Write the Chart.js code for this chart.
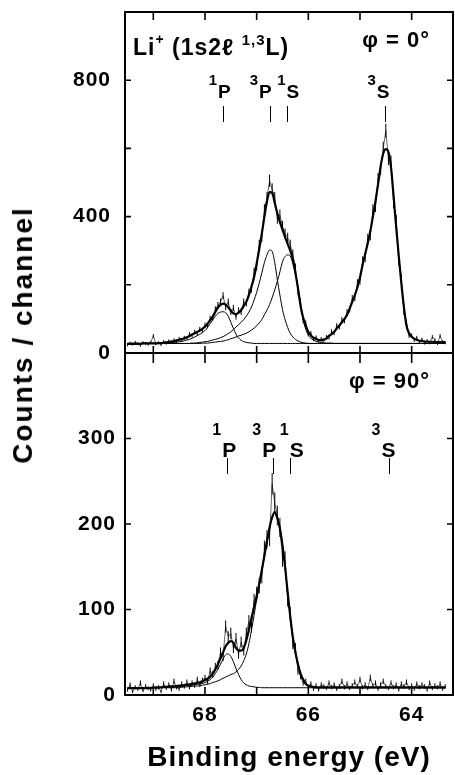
<!DOCTYPE html>
<html>
<head>
<meta charset="utf-8">
<script src="https://cdn.jsdelivr.net/npm/chart.js@4.4.1/dist/chart.umd.min.js"></script>
<style>
  html, body { margin: 0; padding: 0; background: #fff; }
  #wrap { position: relative; width: 455px; height: 775px; overflow: hidden; }
  #topChart { position: absolute; left: 0; top: 0; }
  #bottomChart { position: absolute; left: 0; top: 340px; }
  #yTitle {
    position: absolute; left: 23px; top: 335px;
    transform: translate(-50%, -50%) rotate(-90deg);
    font: bold 28px "Liberation Sans", Arial, Helvetica, sans-serif;
    letter-spacing: 2px; white-space: nowrap; color: #000;
  }
</style>
</head>
<body>
<div id="wrap">
  <canvas id="topChart" width="455" height="360" style="width:455px;height:360px"></canvas>
  <canvas id="bottomChart" width="455" height="435" style="width:455px;height:435px"></canvas>
  <div id="yTitle">Counts / channel</div>
</div>
<script>
// binding energy of each channel (eV)
const energy = [
  69.50, 69.45, 69.40, 69.35, 69.30, 69.25, 69.20, 69.15, 69.10, 69.05,
  69.00, 68.95, 68.90, 68.85, 68.80, 68.75, 68.70, 68.65, 68.60, 68.55,
  68.50, 68.45, 68.40, 68.35, 68.30, 68.25, 68.20, 68.15, 68.10, 68.05,
  68.00, 67.95, 67.90, 67.85, 67.80, 67.75, 67.70, 67.65, 67.60, 67.55,
  67.50, 67.45, 67.40, 67.35, 67.30, 67.25, 67.20, 67.15, 67.10, 67.05,
  67.00, 66.95, 66.90, 66.85, 66.80, 66.75, 66.70, 66.65, 66.60, 66.55,
  66.50, 66.45, 66.40, 66.35, 66.30, 66.25, 66.20, 66.15, 66.10, 66.05,
  66.00, 65.95, 65.90, 65.85, 65.80, 65.75, 65.70, 65.65, 65.60, 65.55,
  65.50, 65.45, 65.40, 65.35, 65.30, 65.25, 65.20, 65.15, 65.10, 65.05,
  65.00, 64.95, 64.90, 64.85, 64.80, 64.75, 64.70, 64.65, 64.60, 64.55,
  64.50, 64.45, 64.40, 64.35, 64.30, 64.25, 64.20, 64.15, 64.10, 64.05,
  64.00, 63.95, 63.90, 63.85, 63.80, 63.75, 63.70, 63.65, 63.60, 63.55,
  63.50, 63.45, 63.40, 63.35
];

// phi = 0 deg panel
const topCounts = [
  24, 29, 26, 31, 27, 23, 30, 28, 26, 31,
  50, 27, 30, 25, 33, 29, 35, 31, 38, 34,
  42, 37, 45, 44, 55, 51, 62, 57, 70, 66,
  82, 80, 101, 104, 128, 140, 150, 168, 135, 150,
  120, 132, 106, 125, 120, 150, 146, 178, 188, 238,
  255, 318, 340, 420, 455, 505, 480, 455, 395, 405,
  372, 350, 338, 318, 290, 250, 180, 150, 95, 88,
  55, 58, 40, 46, 35, 42, 38, 47, 45, 63,
  58, 80, 76, 98, 95, 120, 128, 160, 162, 205,
  212, 270, 280, 335, 345, 420, 430, 510, 540, 600,
  652, 570, 560, 440, 390, 270, 220, 120, 90, 50,
  52, 38, 45, 32, 40, 29, 36, 30, 47, 38,
  28, 50, 33, 30
];
const topFit = [
  27, 27, 27, 27, 27, 27, 28, 28, 28, 28,
  28, 28, 29, 29, 30, 31, 32, 34, 35, 37,
  39, 41, 43, 46, 50, 54, 58, 62, 66, 71,
  77, 86, 96, 107, 120, 133, 141, 145, 142, 134,
  124, 116, 114, 118, 126, 138, 150, 170, 195, 222,
  262, 305, 350, 400, 445, 472, 470, 440, 410, 384,
  362, 340, 320, 300, 275, 235, 190, 138, 104, 80,
  62, 51, 45, 41, 38, 37, 39, 42, 50, 55,
  62, 72, 80, 90, 100, 112, 130, 150, 170, 192,
  222, 258, 290, 322, 358, 400, 445, 495, 548, 585,
  598, 590, 545, 460, 370, 285, 205, 135, 80, 58,
  48, 42, 38, 36, 35, 34, 33, 33, 33, 32,
  32, 32, 32, 32
];
const top1P = [
  28, 28, 28, 28, 28, 28, 28, 28, 28, 28,
  28, 28, 28, 28, 29, 29, 30, 30, 31, 32,
  33, 34, 36, 38, 40, 43, 47, 51, 55, 60,
  66, 75, 86, 97, 108, 116, 120, 121, 118, 108,
  90, 72, 55, 44, 37, 33, 31, 30, 29, 28,
  28, 28, 28, 28, 28, 28, 28, 28, 28, 28,
  28, 28, 28, 28, 28, 28, 28, 28, 28, 28,
  28, 28, 28, 28, 28, 28, 28, 28, 28, 28,
  28, 28, 28, 28, 28, 28, 28, 28, 28, 28,
  28, 28, 28, 28, 28, 28, 28, 28, 28, 28,
  28, 28, 28, 28, 28, 28, 28, 28, 28, 28,
  28, 28, 28, 28, 28, 28, 28, 28, 28, 28,
  28, 28, 28, 28
];
const top3P = [
  28, 28, 28, 28, 28, 28, 28, 28, 28, 28,
  28, 28, 28, 28, 28, 28, 28, 28, 28, 28,
  28, 28, 28, 28, 28, 29, 29, 30, 31, 32,
  33, 34, 36, 38, 40, 42, 45, 48, 52, 57,
  62, 69, 76, 83, 90, 98, 108, 120, 135, 155,
  178, 205, 235, 265, 288, 302, 298, 265, 215, 170,
  128, 98, 75, 58, 47, 40, 35, 32, 30, 29,
  28, 28, 28, 28, 28, 28, 28, 28, 28, 28,
  28, 28, 28, 28, 28, 28, 28, 28, 28, 28,
  28, 28, 28, 28, 28, 28, 28, 28, 28, 28,
  28, 28, 28, 28, 28, 28, 28, 28, 28, 28,
  28, 28, 28, 28, 28, 28, 28, 28, 28, 28,
  28, 28, 28, 28
];
const top1S = [
  28, 28, 28, 28, 28, 28, 28, 28, 28, 28,
  28, 28, 28, 28, 28, 28, 28, 28, 28, 28,
  28, 28, 28, 28, 28, 28, 28, 28, 28, 29,
  29, 29, 30, 31, 32, 33, 34, 35, 37, 39,
  42, 44, 47, 50, 52, 55, 58, 62, 67, 73,
  80, 88, 98, 112, 126, 142, 162, 185, 210, 238,
  268, 283, 288, 284, 262, 232, 190, 140, 97, 70,
  52, 43, 38, 34, 32, 31, 30, 29, 29, 29,
  28, 28, 28, 28, 28, 28, 28, 28, 28, 28,
  28, 28, 28, 28, 28, 28, 28, 28, 28, 28,
  28, 28, 28, 28, 28, 28, 28, 28, 28, 28,
  28, 28, 28, 28, 28, 28, 28, 28, 28, 28,
  28, 28, 28, 28
];

// phi = 90 deg panel
const botCounts = [
  6, 12, 4, 9, 7, 14, 5, 10, 8, 6,
  11, 7, 9, 4, 13, 8, 12, 6, 16, 9,
  7, 13, 10, 15, 9, 14, 11, 18, 12, 17,
  20, 16, 28, 24, 33, 35, 50, 45, 80, 68,
  72, 55, 66, 48, 62, 52, 72, 86, 80, 110,
  118, 128, 140, 170, 182, 185, 247, 225, 210, 196,
  160, 158, 112, 95, 60, 55, 28, 22, 14, 16,
  9, 13, 7, 11, 6, 12, 10, 8, 14, 9,
  12, 7, 10, 16, 9, 13, 8, 11, 15, 10,
  18, 9, 12, 8, 20, 11, 14, 7, 12, 16,
  10, 8, 14, 9, 12, 6, 13, 10, 15, 8,
  11, 7, 13, 9, 12, 10, 6, 14, 8, 11,
  9, 13, 7, 10
];
const botFit = [
  8, 8, 8, 8, 8, 8, 8, 8, 8, 8.5,
  8.5, 9, 9, 9, 9.5, 9.5, 10, 10, 10, 10.5,
  11, 11, 11.5, 12, 12.5, 13, 13.5, 14, 15, 16,
  17.5, 19, 21.5, 25, 30, 36, 43, 50, 57, 61,
  63, 61, 55, 52, 52, 55, 64, 76, 90, 103,
  115, 130, 146, 163, 180, 196, 208, 214, 207, 195,
  175, 150, 120, 92, 68, 50, 36, 25, 18, 13,
  11, 10, 9.5, 9, 9, 9, 9, 9, 9, 9,
  9, 9, 9, 9, 9, 9, 9, 9, 9, 9,
  9, 9, 9, 9, 9, 9, 9, 9, 9, 9,
  9, 9, 9, 9, 9, 9, 9, 9, 9, 9,
  9, 9, 9, 9, 9, 9, 9, 9, 9, 9,
  9, 9, 9, 9
];
const bot1P = [
  8.5, 8.5, 8.5, 8.5, 8.5, 8.5, 8.5, 8.5, 8.5, 8.5,
  8.5, 8.5, 8.5, 9, 9, 9, 9.5, 9.5, 9.5, 10,
  10, 10.5, 10.5, 11, 11, 11.5, 12, 12.5, 13, 13.5,
  14.5, 16, 18, 21, 25, 30, 36, 42, 47, 48,
  45, 39, 31, 24, 18, 14, 12, 10.5, 10, 9.5,
  9, 9, 8.5, 8.5, 8.5, 8.5, 8.5, 8.5, 8.5, 8.5,
  8.5, 8.5, 8.5, 8.5, 8.5, 8.5, 8.5, 8.5, 8.5, 8.5,
  8.5, 8.5, 8.5, 8.5, 8.5, 8.5, 8.5, 8.5, 8.5, 8.5,
  8.5, 8.5, 8.5, 8.5, 8.5, 8.5, 8.5, 8.5, 8.5, 8.5,
  8.5, 8.5, 8.5, 8.5, 8.5, 8.5, 8.5, 8.5, 8.5, 8.5,
  8.5, 8.5, 8.5, 8.5, 8.5, 8.5, 8.5, 8.5, 8.5, 8.5,
  8.5, 8.5, 8.5, 8.5, 8.5, 8.5, 8.5, 8.5, 8.5, 8.5,
  8.5, 8.5, 8.5, 8.5
];
const bot3P = [
  8.5, 8.5, 8.5, 8.5, 8.5, 8.5, 8.5, 8.5, 8.5, 8.5,
  8.5, 8.5, 8.5, 8.5, 8.5, 8.5, 8.5, 8.5, 8.5, 8.5,
  9, 9, 9.5, 9.5, 10, 10, 10.5, 10.5, 11, 11.5,
  12, 12.5, 13.5, 14.5, 15.5, 16.5, 18, 19.5, 21, 22.5,
  24, 25, 27, 30, 34, 40, 48, 60, 76, 93,
  112, 128, 145, 162, 179, 195, 207, 213, 206, 194,
  174, 149, 119, 91, 67, 49, 35, 24, 17, 12.5,
  10.5, 9.5, 9, 8.5, 8.5, 8.5, 8.5, 8.5, 8.5, 8.5,
  8.5, 8.5, 8.5, 8.5, 8.5, 8.5, 8.5, 8.5, 8.5, 8.5,
  8.5, 8.5, 8.5, 8.5, 8.5, 8.5, 8.5, 8.5, 8.5, 8.5,
  8.5, 8.5, 8.5, 8.5, 8.5, 8.5, 8.5, 8.5, 8.5, 8.5,
  8.5, 8.5, 8.5, 8.5, 8.5, 8.5, 8.5, 8.5, 8.5, 8.5,
  8.5, 8.5, 8.5, 8.5
];

// 1s2l states: letter, multiplicity, marker energy in each panel
const stateLetters = ["P", "P", "S", "S"];
const stateMult = ["1", "3", "1", "3"];
const markTop = [67.65, 66.74, 66.42, 64.52];
const markBottom = [67.57, 66.68, 66.36, 64.43];

const xTickLabels = [68, 66, 64];

const X_MIN = 63.20;
const X_MAX = 69.548;
const FONT = '"Liberation Sans", Arial, Helvetica, sans-serif';
const stateShift = [-5, -11, 0, -8];

function pts(values) {
    return energy.map((e, i) => ({ x: e, y: values[i] }));
}

// half length of the vertical data stroke ~ sqrt(N) counts
function errRadius(ctx) {
    const y = ctx.chart.scales.y;
    const v = ctx.raw ? ctx.raw.y : 0;
    if (!y) return 2;
    return Math.max(1.5, 0.8 * (y.getPixelForValue(0) - y.getPixelForValue(Math.sqrt(v))));
}

function panelDatasets(fit, comps, counts) {
    return [
        { data: pts(fit), borderColor: "#000", borderWidth: 2.2, pointRadius: 0, cubicInterpolationMode: "monotone" },
        ...comps.map(c => ({ data: pts(c), borderColor: "#000", borderWidth: 1, pointRadius: 0, cubicInterpolationMode: "monotone" })),
        {
            data: pts(counts), showLine: true, borderColor: "#000", borderWidth: 0.6,
            pointStyle: "line", pointRotation: 90, pointRadius: errRadius,
            pointBorderWidth: 1, pointBorderColor: "#000"
        }
    ];
}

function zeroPad(s) {
    s.paddingTop = 0; s.paddingBottom = 0; s.paddingLeft = 0; s.paddingRight = 0;
}

const panelDecor = {
    id: "panelDecor",
    beforeDraw(chart) {
        chart.ctx.letterSpacing = "1px";
    },
    afterDraw(chart, args, o) {
        const { ctx, chartArea: a, scales: { x, y } } = chart;
        ctx.save();
        ctx.strokeStyle = "#000";
        ctx.fillStyle = "#000";
        // frame
        ctx.lineWidth = 2;
        ctx.strokeRect(a.left, a.top, a.right - a.left, a.bottom - a.top);
        // inward ticks
        ctx.lineWidth = 1.6;
        ctx.beginPath();
        y.ticks.forEach(t => {
            if (t.value <= y.min || t.value >= y.max) return;
            const py = y.getPixelForValue(t.value);
            ctx.moveTo(a.left, py); ctx.lineTo(a.left + o.yTick, py);
            ctx.moveTo(a.right - o.yTick, py); ctx.lineTo(a.right, py);
        });
        x.ticks.forEach(t => {
            const px = x.getPixelForValue(t.value);
            ctx.moveTo(px, a.top); ctx.lineTo(px, a.top + o.xTickTop);
            ctx.moveTo(px, a.bottom - o.xTickBottom); ctx.lineTo(px, a.bottom);
        });
        ctx.stroke();
        // state markers and labels
        ctx.lineWidth = 1;
        ctx.beginPath();
        o.marks.forEach(e => {
            const px = Math.round(x.getPixelForValue(e)) + 0.5;
            ctx.moveTo(px, o.markY[0]); ctx.lineTo(px, o.markY[1]);
        });
        ctx.stroke();
        ctx.textBaseline = "alphabetic";
        o.marks.forEach((e, i) => {
            const px = x.getPixelForValue(e) + stateShift[i];
            ctx.font = `bold ${o.letterSize}px ${FONT}`;
            ctx.textAlign = "left";
            ctx.fillText(stateLetters[i], px, o.letterY);
            ctx.font = `bold ${o.supSize}px ${FONT}`;
            ctx.textAlign = "right";
            ctx.fillText(stateMult[i], px, o.supY);
        });
        // free text
        ctx.textAlign = "left";
        o.texts.forEach(t => {
            let w = 0;
            t.runs.forEach(r => { ctx.font = `bold ${r.size}px ${FONT}`; w += ctx.measureText(r.text).width; });
            let cx = t.align === "right" ? t.x - w : t.x;
            t.runs.forEach(r => {
                ctx.font = `bold ${r.size}px ${FONT}`;
                ctx.fillText(r.text, cx, t.y - (r.rise || 0));
                cx += ctx.measureText(r.text).width;
            });
        });
        ctx.restore();
    }
};

function panelOptions(cfg) {
    return {
        responsive: false,
        animation: false,
        events: [],
        layout: { padding: cfg.padding },
        plugins: {
            legend: { display: false },
            tooltip: { enabled: false },
            panelDecor: cfg.decor
        },
        scales: {
            x: {
                type: "linear",
                reverse: true,
                min: X_MIN,
                max: X_MAX,
                grid: { display: false, drawTicks: false },
                border: { display: false },
                ticks: {
                    display: cfg.xLabels,
                    stepSize: 1,
                    includeBounds: false,
                    padding: 8,
                    color: "#000",
                    font: { family: FONT, size: 21, weight: "bold" },
                    callback: v => (xTickLabels.includes(v) ? v : "")
                },
                title: {
                    display: cfg.xLabels,
                    text: "Binding energy (eV)",
                    color: "#000",
                    padding: 0,
                    font: { family: FONT, size: 28, weight: "bold" }
                },
                afterFit: s => { s.height = cfg.xHeight; zeroPad(s); }
            },
            y: {
                min: 0,
                max: cfg.yMax,
                grid: { display: false, drawTicks: false },
                border: { display: false },
                ticks: {
                    stepSize: cfg.yStep,
                    padding: cfg.yPad,
                    color: "#000",
                    font: { family: FONT, size: 21, weight: "bold" },
                    callback: v => (cfg.yLabels.includes(v) ? v : "")
                },
                afterFit: s => { s.width = 125; zeroPad(s); }
            }
        }
    };
}

new Chart(document.getElementById("topChart"), {
    type: "line",
    data: { datasets: panelDatasets(topFit, [top1P, top3P, top1S], topCounts) },
    options: panelOptions({
        padding: { top: 12, right: 2, bottom: 7, left: 0 },
        xLabels: false, xHeight: 0,
        yMax: 1000, yStep: 200, yPad: 14, yLabels: [0, 400, 800],
        decor: {
            yTick: 6, xTickTop: 8, xTickBottom: 7,
            marks: markTop, markY: [106, 122],
            letterY: 98, letterSize: 19, supY: 85, supSize: 15,
            texts: [
                { x: 133, y: 55, align: "left", runs: [
                    { text: "Li", size: 23 },
                    { text: "+", size: 14, rise: 11 },
                    { text: " (1s2", size: 23 },
                    { text: "\u2113", size: 23 },
                    { text: " ", size: 23 },
                    { text: "1,3", size: 15, rise: 10 },
                    { text: "L)", size: 23 }
                ] },
                { x: 430, y: 47, align: "right", runs: [{ text: "\u03c6 = 0\u00b0", size: 22 }] }
            ]
        }
    }),
    plugins: [panelDecor]
});

new Chart(document.getElementById("bottomChart"), {
    type: "line",
    data: { datasets: panelDatasets(botFit, [bot1P, bot3P], botCounts) },
    options: panelOptions({
        padding: { top: 13, right: 2, bottom: 0, left: 0 },
        xLabels: true, xHeight: 80,
        yMax: 400, yStep: 100, yPad: 9, yLabels: [0, 100, 200, 300],
        decor: {
            yTick: 6, xTickTop: 10, xTickBottom: 8,
            marks: markBottom, markY: [118, 134],
            letterY: 117, letterSize: 21, supY: 95, supSize: 16,
            texts: [
                { x: 430, y: 48, align: "right", runs: [{ text: "\u03c6 = 90\u00b0", size: 22 }] }
            ]
        }
    }),
    plugins: [panelDecor]
});
</script>
</body>
</html>
